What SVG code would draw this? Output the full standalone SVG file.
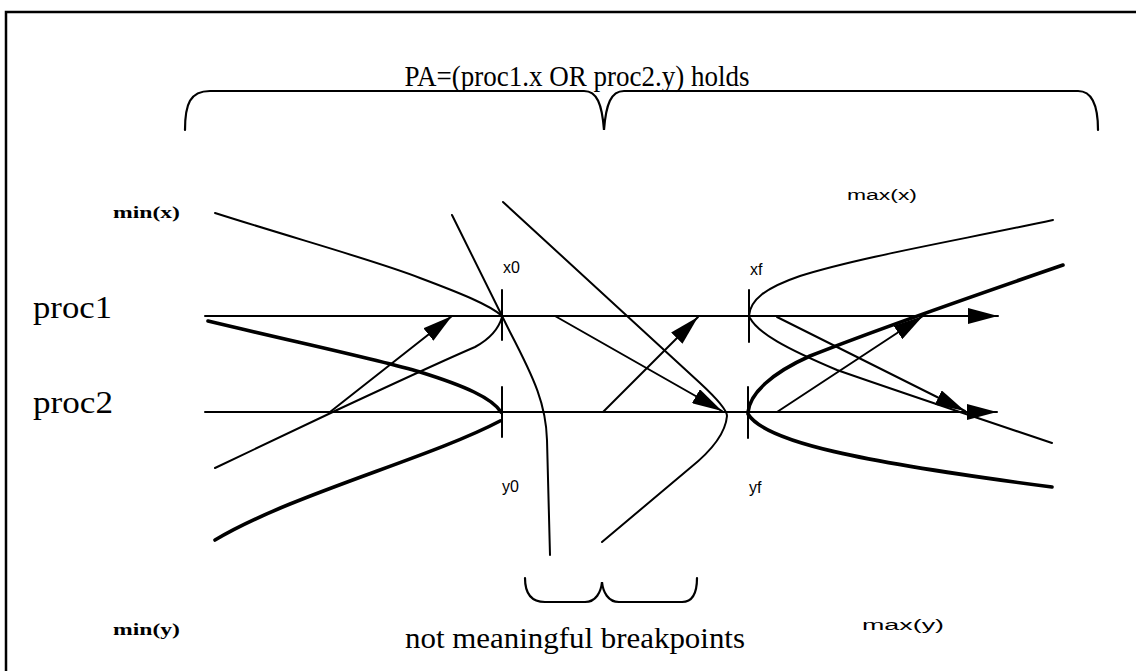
<svg xmlns="http://www.w3.org/2000/svg" width="1136" height="671" viewBox="0 0 1136 671">
<style>
.ln{fill:none;stroke:#000;stroke-width:2;stroke-linecap:round;stroke-linejoin:round}
.tk{fill:none;stroke:#000;stroke-width:3.6;stroke-linecap:round;stroke-linejoin:round}
.br{fill:none;stroke:#000;stroke-width:2.2;stroke-linecap:round}
.serif{font-family:"Liberation Serif","Times New Roman",serif;fill:#000}
.sans{font-family:"Liberation Sans",Arial,sans-serif;fill:#000}
</style>
<defs>
<marker id="ah" markerUnits="userSpaceOnUse" markerWidth="32" markerHeight="16" refX="30" refY="8" orient="auto">
<path d="M0,0 L30,8 L0,16 Z" fill="#000"/>
</marker>
</defs>
<rect width="1136" height="671" fill="#fff"/>
<path d="M6,671 V12 H1136" fill="none" stroke="#000" stroke-width="2.5"/>

<g id="title">
<text class="serif" x="577" y="86" font-size="30" text-anchor="middle" textLength="345" lengthAdjust="spacingAndGlyphs">PA=(proc1.x OR proc2.y) holds</text>
<path class="br" d="M185,130 C185,104 190,91 210,91 L584,91 C597,91 602,104 604,130 C606,104 611,91 624,91 L1078,91 C1092,91 1098,104 1098,130"/>
</g>

<g id="proc1">
<text class="serif" x="33" y="318" font-size="32" textLength="79" lengthAdjust="spacingAndGlyphs">proc1</text>
</g>
<g id="proc2">
<text class="serif" x="33" y="413" font-size="32" textLength="80" lengthAdjust="spacingAndGlyphs">proc2</text>
</g>

<g id="labels">
<text class="serif" x="113" y="218" font-size="17" font-weight="bold" textLength="67" lengthAdjust="spacingAndGlyphs">min(x)</text>
<text class="serif" x="113" y="635" font-size="17" font-weight="bold" textLength="67" lengthAdjust="spacingAndGlyphs">min(y)</text>
<text class="sans" x="847" y="200" font-size="14" textLength="70" lengthAdjust="spacingAndGlyphs">max(x)</text>
<text class="sans" x="862" y="630" font-size="14" textLength="82" lengthAdjust="spacingAndGlyphs">max(y)</text>
<text class="sans" x="503" y="273" font-size="16">x0</text>
<text class="sans" x="750" y="275" font-size="16">xf</text>
<text class="sans" x="502" y="492" font-size="16">y0</text>
<text class="sans" x="749" y="493" font-size="16">yf</text>
</g>

<g id="bottom">
<path class="br" d="M525,578 C525,595 532,602 545,602 L585,602 C596,602 601,592 602,582 C603,592 608,602 619,602 L682,602 C692,602 697,595 697,578"/>
<text class="serif" x="575" y="648" font-size="29" text-anchor="middle" textLength="340" lengthAdjust="spacingAndGlyphs">not meaningful breakpoints</text>
</g>

<g id="connectors">
<path class="ln" d="M205,316 L998,316" marker-end="url(#ah)"/>
<path class="ln" d="M205,412 L997,412" marker-end="url(#ah)"/>
<path class="ln" d="M502,290 V340 M502,387 V437 M749,290 V342 M748,387 V438"/>
<path class="ln" d="M215,213 C300,240 380,262 420,278 C460,293 490,305 502,316"/>
<path class="tk" d="M208,321 C300,343 380,360 420,372 C465,386 492,398 501,412"/>
<path class="ln" d="M215,468 L337,410 Q440,362 475,347 Q497,335 502,317"/>
<path class="tk" d="M215,540 C290,495 430,458 500,421"/>
<path class="ln" d="M452,215 L510,332 C535,380 546,405 547,440 L550,555"/>
<path class="ln" d="M503,202 L700,383 Q727,408 727,416 Q725,440 690,468 L602,542"/>
<path class="ln" d="M749,316 C750,300 765,288 800,276 C860,257 960,240 1053,220"/>
<path class="ln" d="M750,318 C758,333 785,348 837,370 Q900,392 1052,443"/>
<path class="tk" d="M748,412 C750,393 772,373 810,356 Q880,328 1063,265"/>
<path class="tk" d="M748,414 C765,442 860,462 1052,487"/>
<path class="ln" d="M330,412 L452,316" marker-end="url(#ah)"/>
<path class="ln" d="M555,316 L722,411" marker-end="url(#ah)"/>
<path class="ln" d="M603,412 L698,317" marker-end="url(#ah)"/>
<path class="ln" d="M777,317 L965,411" marker-end="url(#ah)"/>
<path class="ln" d="M777,412 L923,316" marker-end="url(#ah)"/>
</g>
</svg>
